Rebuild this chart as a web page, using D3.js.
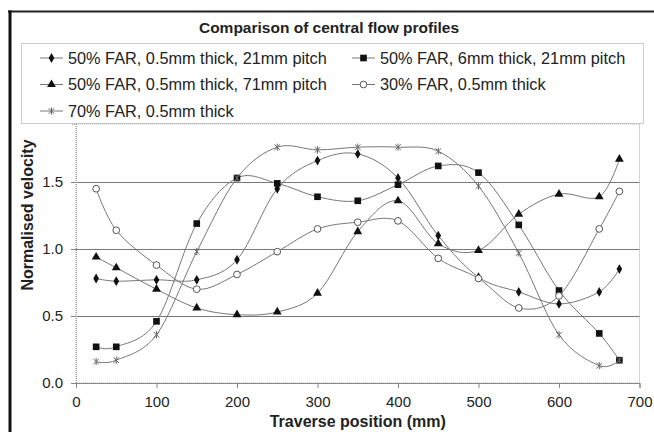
<!DOCTYPE html>
<html>
<head>
<meta charset="utf-8">
<script src="https://cdn.jsdelivr.net/npm/d3@7"></script>
<style>
  body { margin: 0; background: #fff; }
  svg { font-family: 'Liberation Sans', Arial, sans-serif; }
  .tick text { font-size: 15px; fill: #222; }
  .axis-label { font-size: 16px; font-weight: bold; fill: #222; }
  .legend-text { font-size: 16.3px; fill: #222; }
</style>
</head>
<body>
<svg></svg>
<script>
const CHART_SIZE = { width: 654, height: 432 };
const PLOT = { left: 76, right: 639.5, top: 124, bottom: 383 };

const positions = [25, 50, 100, 150, 200, 250, 300, 350, 400, 450, 500, 550, 600, 650, 675];
const far50Thin21 = [0.78, 0.76, 0.77, 0.77, 0.92, 1.45, 1.66, 1.71, 1.53, 1.10, 0.79, 0.68, 0.59, 0.68, 0.85];
const far50Thick21 = [0.27, 0.27, 0.46, 1.19, 1.53, 1.49, 1.39, 1.36, 1.48, 1.62, 1.57, 1.18, 0.69, 0.37, 0.17];
const far50Thin71 = [0.94, 0.86, 0.70, 0.56, 0.51, 0.53, 0.67, 1.13, 1.36, 1.04, 0.99, 1.26, 1.41, 1.39, 1.67];
const far30Thin = [1.45, 1.14, 0.88, 0.70, 0.81, 0.98, 1.15, 1.20, 1.21, 0.93, 0.78, 0.56, 0.65, 1.15, 1.43];
const far70Thin = [0.16, 0.17, 0.36, 0.98, 1.53, 1.76, 1.74, 1.76, 1.76, 1.73, 1.47, 0.97, 0.36, 0.13, 0.17];

const seriesNames = [
  '50% FAR, 0.5mm thick, 21mm pitch',
  '50% FAR, 6mm thick, 21mm pitch',
  '50% FAR, 0.5mm thick, 71mm pitch',
  '30% FAR, 0.5mm thick',
  '70% FAR, 0.5mm thick'
];
const xTicks = [0, 100, 200, 300, 400, 500, 600, 700];
const yTicks = [0, 0.5, 1.0, 1.5];
const yMax = 1.933;

const starPath = r =>
  `M${-r},${-r}L${r},${r}M${-r},${r}L${r},${-r}M0,${-r * 1.3}L0,${r * 1.3}`;

// marker drawing per series
const markers = [
  { type: d3.symbolDiamond, size: 28, fill: '#111', stroke: 'none' },
  { type: d3.symbolSquare, size: 44, fill: '#111', stroke: 'none' },
  { type: d3.symbolTriangle, size: 34, fill: '#111', stroke: 'none' },
  { type: d3.symbolCircle, size: 36, fill: '#fff', stroke: '#555' },
  { type: 'star', size: 2.8, fill: 'none', stroke: '#666' }
];

const drawMarker = (sel, m) => {
  if (m.type === 'star') {
    sel.append('path').attr('d', starPath(m.size))
      .attr('fill', 'none').attr('stroke', m.stroke).attr('stroke-width', 1);
  } else {
    sel.append('path').attr('d', d3.symbol(m.type, m.size)())
      .attr('fill', m.fill).attr('stroke', m.stroke).attr('stroke-width', 1);
  }
};

const main = () => {
  const svg = d3.select('svg')
    .attr('width', CHART_SIZE.width)
    .attr('height', CHART_SIZE.height);

  svg.append('rect')
    .attr('width', CHART_SIZE.width).attr('height', CHART_SIZE.height)
    .attr('fill', '#fff');

  // chart frame: top and left edges only are in view
  svg.append('line')
    .attr('x1', 8).attr('x2', 654).attr('y1', 11.5).attr('y2', 11.5)
    .attr('stroke', '#222').attr('stroke-width', 2);
  svg.append('line')
    .attr('x1', 10).attr('x2', 10).attr('y1', 10.5).attr('y2', 432)
    .attr('stroke', '#111').attr('stroke-width', 3);

  svg.append('text')
    .attr('x', 329).attr('y', 33)
    .attr('text-anchor', 'middle')
    .attr('class', 'axis-label')
    .style('font-size', '15.5px')
    .text('Comparison of central flow profiles');

  const x = d3.scaleLinear().domain([0, 700]).range([PLOT.left, PLOT.right]);
  const y = d3.scaleLinear().domain([0, yMax]).range([PLOT.bottom, PLOT.top]);

  // plot frame
  svg.append('rect')
    .attr('x', PLOT.left).attr('y', PLOT.top)
    .attr('width', PLOT.right - PLOT.left).attr('height', PLOT.bottom - PLOT.top)
    .attr('fill', 'none').attr('stroke', '#aaa').attr('stroke-dasharray', '1,1');

  svg.append('g')
    .selectAll('line')
    .data(yTicks.filter(d => d > 0))
    .join('line')
    .attr('x1', PLOT.left).attr('x2', PLOT.right)
    .attr('y1', d => Math.round(y(d)) + 0.5).attr('y2', d => Math.round(y(d)) + 0.5)
    .attr('stroke', '#777');

  const xAxis = d3.axisBottom(x).tickValues(xTicks).tickSize(5).tickPadding(8);
  const yAxis = d3.axisLeft(y).tickValues(yTicks).tickFormat(d3.format('.1f')).tickSize(5).tickPadding(8);

  svg.append('g')
    .attr('class', 'x axis')
    .attr('transform', `translate(0,${PLOT.bottom})`)
    .call(xAxis)
    .call(g => g.select('.domain').attr('stroke', '#888'))
    .call(g => g.selectAll('.tick line').attr('stroke', '#888'));

  svg.append('g')
    .attr('class', 'y axis')
    .attr('transform', `translate(${PLOT.left},0)`)
    .call(yAxis)
    .call(g => g.select('.domain').attr('stroke', '#999').attr('stroke-dasharray', '1,1'))
    .call(g => g.selectAll('.tick line').attr('stroke', '#888'));

  svg.selectAll('.tick text').attr('font-family', null).attr('font-size', null);

  svg.append('text')
    .attr('class', 'axis-label')
    .attr('x', (PLOT.left + PLOT.right) / 2).attr('y', 427)
    .attr('text-anchor', 'middle')
    .text('Traverse position (mm)');

  svg.append('text')
    .attr('class', 'axis-label')
    .attr('transform', 'rotate(-90)')
    .attr('x', -215).attr('y', 33)
    .attr('text-anchor', 'middle')
    .text('Normalised velocity');

  const allSeries = [far50Thin21, far50Thick21, far50Thin71, far30Thin, far70Thin];

  const line = d3.line()
    .x((d, i) => x(positions[i]))
    .y(d => y(d))
    .curve(d3.curveCardinal.tension(0));

  allSeries.forEach((values, s) => {
    const g = svg.append('g');
    g.append('path')
      .attr('d', line(values))
      .attr('fill', 'none').attr('stroke', '#777').attr('stroke-width', 1);
    values.forEach((v, i) => {
      const mg = g.append('g').attr('transform', `translate(${x(positions[i])},${y(v)})`);
      drawMarker(mg, markers[s]);
    });
  });

  // legend
  svg.append('rect')
    .attr('x', 21.5).attr('y', 43.5)
    .attr('width', 622).attr('height', 80)
    .attr('fill', '#fff').attr('stroke', '#999').attr('stroke-dasharray', '1,1');

  const legendPos = [[40, 58], [352, 58], [40, 84.5], [352, 84.5], [40, 111]];
  seriesNames.forEach((name, s) => {
    const [lx, ly] = legendPos[s];
    const g = svg.append('g').attr('transform', `translate(${lx},${ly})`);
    g.append('line').attr('x1', 0).attr('x2', 23).attr('stroke', '#777');
    const mg = g.append('g').attr('transform', 'translate(11.5,0)');
    drawMarker(mg, markers[s]);
    g.append('text')
      .attr('class', 'legend-text')
      .attr('x', 28).attr('dy', '0.35em')
      .text(name);
  });
};

window.onload = main;
</script>
</body>
</html>
